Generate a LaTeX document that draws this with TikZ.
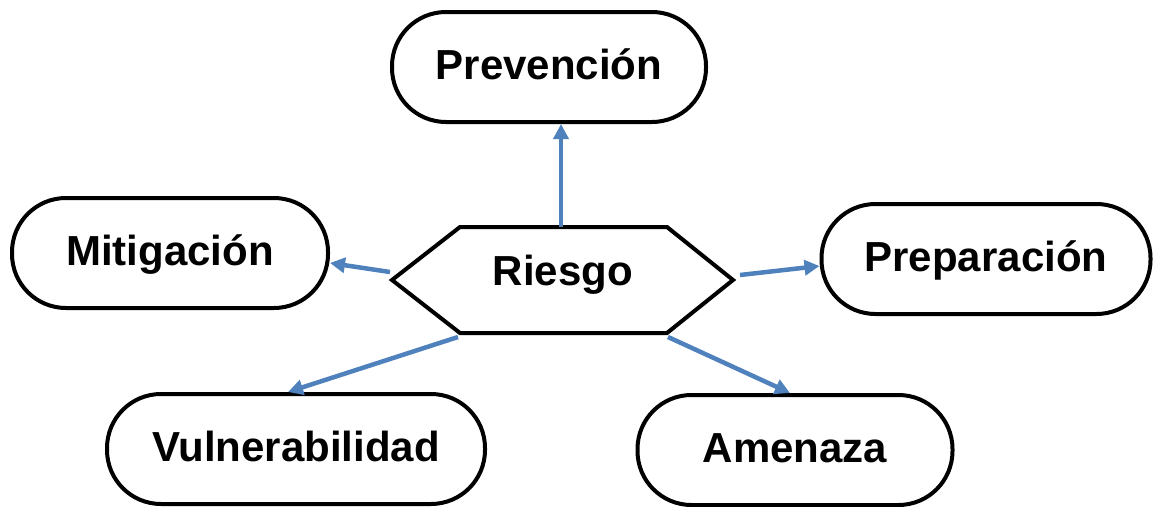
\documentclass[tikz,border=0pt]{standalone}
\usepackage{fontspec}
\setmainfont{Liberation Sans}
\usetikzlibrary{arrows.meta}
\definecolor{arr}{RGB}{79,129,189}
\begin{document}
\begin{tikzpicture}[x=1pt,y=-1pt,
  box/.style={draw=black,line width=4pt,rounded corners=54pt,fill=white,inner sep=0pt,
    font=\fontsize{42}{50}\selectfont\bfseries,text height=24pt,text depth=0pt},
  lbl/.style={inner sep=0pt,font=\fontsize{42}{50}\selectfont\bfseries,text height=24pt,text depth=0pt},
  conn/.style={draw=arr,line width=4.5pt,-{Triangle[length=15pt,width=15pt]}}]
\useasboundingbox (0,0) rectangle (1158,506);
\node[box,minimum width=314pt,minimum height=110pt] (prev) at (549,67) {Prevención};
\node[box,minimum width=316pt,minimum height=110pt] (mit) at (170,253) {Mitigación};
\node[box,minimum width=329pt,minimum height=110pt] (prep) at (986,259) {Preparación};
\node[box,minimum width=378pt,minimum height=110pt] (vul) at (296,449) {Vulnerabilidad};
\node[box,minimum width=315pt,minimum height=110pt] (amen) at (795,450) {Amenaza};
\draw[line width=4pt,line join=miter,fill=white] (392,280) -- (460,227) -- (667,227) -- (733,280) -- (667,333) -- (460,333) -- cycle;
\node[lbl] (ries) at (563,273) {Riesgo};
\coordinate (hT) at (561,227);
\coordinate (hL) at (390,272);
\coordinate (hR) at (740,275);
\coordinate (hBL) at (458,337);
\coordinate (hBR) at (668,337);
\draw[conn] (hT) -- (hT |- prev.south);
\draw[conn] (hL) -- ([yshift=-10pt]mit.east);
\draw[conn] (hR) -- ([yshift=-7pt]prep.west);
\draw[conn] (hBL) -- ([xshift=-8pt]vul.north);
\draw[conn] (hBR) -- ([xshift=-5pt]amen.north);
\end{tikzpicture}
\end{document}
